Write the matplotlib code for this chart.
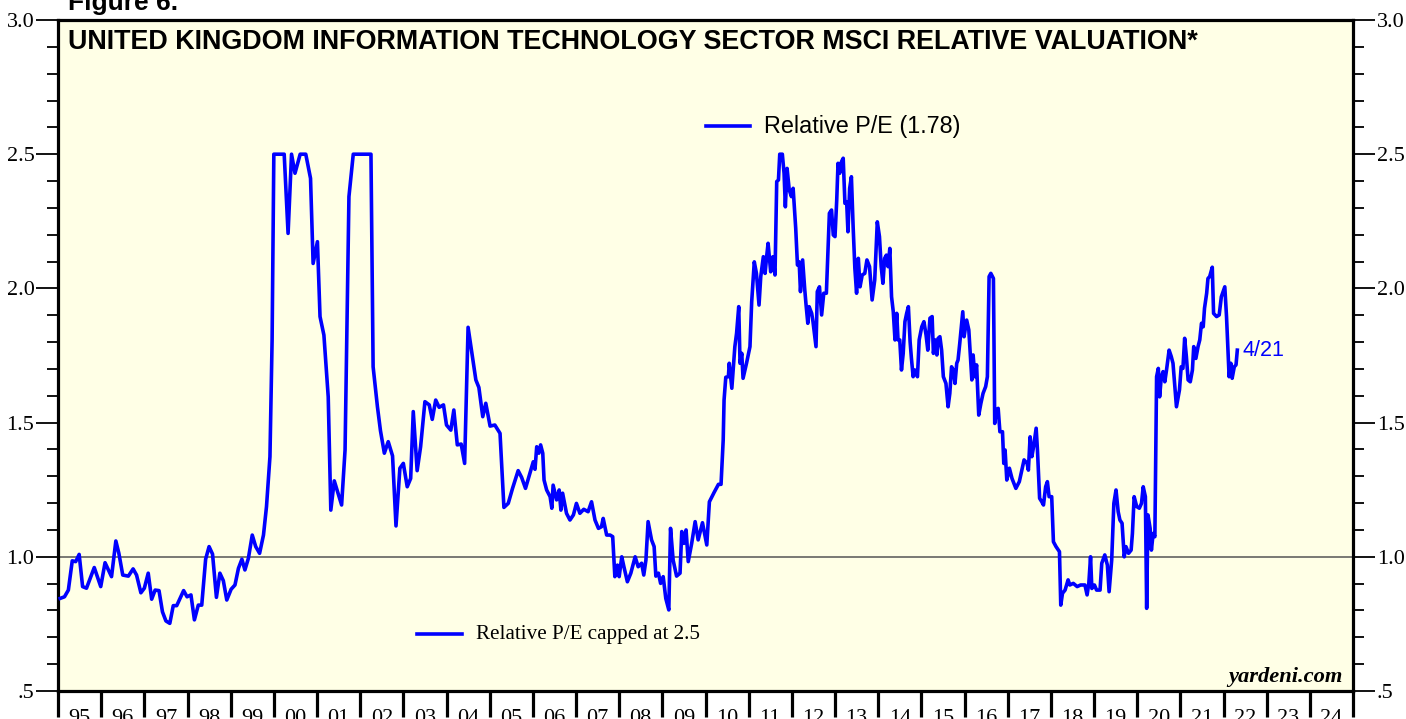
import numpy as np
import matplotlib
matplotlib.use("Agg")
import matplotlib.pyplot as plt
from matplotlib.ticker import MultipleLocator, FixedLocator, NullFormatter

# ---- data (decimal year, relative P/E capped at 2.5) ----
years = [
 1995.05,1995.15,1995.24,1995.33,1995.41,1995.49,1995.57,1995.66,1995.84,1995.99,
 1996.09,1996.24,1996.34,1996.41,1996.50,1996.63,1996.74,1996.82,1996.92,1997.00,
 1997.09,1997.17,1997.25,1997.34,1997.42,1997.50,1997.59,1997.67,1997.75,1997.91,
 1997.99,1998.08,1998.16,1998.25,1998.33,1998.42,1998.50,1998.58,1998.67,1998.75,
 1998.83,1998.91,1999.01,1999.10,1999.18,1999.26,1999.33,1999.41,1999.50,1999.58,
 1999.67,1999.76,1999.83,1999.91,1999.96,2000.00,2000.24,2000.33,2000.41,2000.49,
 2000.61,2000.74,2000.85,2000.91,2001.01,2001.07,2001.16,2001.26,2001.32,2001.40,
 2001.57,2001.65,2001.74,2001.84,2002.25,2002.30,2002.40,2002.47,2002.56,2002.65,
 2002.75,2002.83,2002.92,2003.00,2003.09,2003.17,2003.23,2003.32,2003.40,2003.50,
 2003.60,2003.67,2003.75,2003.83,2003.93,2004.00,2004.10,2004.17,2004.25,2004.34,
 2004.42,2004.50,2004.60,2004.68,2004.75,2004.84,2004.91,2005.01,2005.12,2005.24,
 2005.33,2005.43,2005.53,2005.66,2005.74,2005.83,2005.92,2006.01,2006.05,2006.09,
 2006.14,2006.18,2006.23,2006.26,2006.32,2006.40,2006.44,2006.47,2006.55,2006.61,
 2006.65,2006.69,2006.78,2006.86,2006.94,2007.01,2007.09,2007.18,2007.28,2007.36,
 2007.44,2007.52,2007.59,2007.63,2007.71,2007.79,2007.85,2007.90,2007.96,2008.00,
 2008.06,2008.11,2008.19,2008.27,2008.37,2008.44,2008.52,2008.57,2008.62,2008.67,
 2008.75,2008.81,2008.85,2008.91,2008.96,2009.02,2009.08,2009.15,2009.19,2009.25,
 2009.33,2009.41,2009.45,2009.50,2009.55,2009.60,2009.68,2009.76,2009.83,2009.93,
 2010.03,2010.09,2010.20,2010.30,2010.36,2010.41,2010.43,2010.47,2010.53,2010.55,
 2010.61,2010.64,2010.68,2010.72,2010.77,2010.80,2010.84,2010.87,2010.95,2011.03,
 2011.07,2011.13,2011.18,2011.24,2011.28,2011.34,2011.38,2011.42,2011.45,2011.51,
 2011.56,2011.61,2011.65,2011.69,2011.72,2011.78,2011.82,2011.85,2011.89,2011.94,
 2011.99,2012.03,2012.09,2012.13,2012.17,2012.20,2012.25,2012.30,2012.33,2012.37,
 2012.40,2012.46,2012.49,2012.56,2012.59,2012.64,2012.69,2012.74,2012.80,2012.87,
 2012.92,2012.96,2013.00,2013.04,2013.07,2013.11,2013.15,2013.19,2013.23,2013.27,
 2013.30,2013.34,2013.38,2013.42,2013.46,2013.50,2013.54,2013.58,2013.63,2013.69,
 2013.74,2013.80,2013.86,2013.92,2013.98,2014.03,2014.07,2014.11,2014.15,2014.19,
 2014.23,2014.27,2014.31,2014.35,2014.39,2014.43,2014.46,2014.50,2014.54,2014.58,
 2014.62,2014.66,2014.70,2014.74,2014.77,2014.81,2014.85,2014.91,2014.95,2015.01,
 2015.06,2015.11,2015.15,2015.20,2015.25,2015.28,2015.32,2015.36,2015.39,2015.43,
 2015.47,2015.51,2015.57,2015.62,2015.66,2015.70,2015.74,2015.78,2015.82,2015.85,
 2015.89,2015.96,2015.99,2016.05,2016.10,2016.17,2016.20,2016.24,2016.28,2016.33,
 2016.38,2016.43,2016.49,2016.53,2016.57,2016.61,2016.67,2016.70,2016.74,2016.78,
 2016.82,2016.88,2016.91,2016.94,2016.98,2017.04,2017.10,2017.19,2017.27,2017.38,
 2017.45,2017.48,2017.52,2017.56,2017.60,2017.66,2017.69,2017.74,2017.79,2017.83,
 2017.88,2017.92,2017.96,2018.02,2018.06,2018.12,2018.20,2018.23,2018.27,2018.33,
 2018.40,2018.44,2018.52,2018.61,2018.69,2018.79,2018.84,2018.88,2018.92,2018.95,
 2019.01,2019.06,2019.14,2019.18,2019.25,2019.31,2019.35,2019.41,2019.46,2019.51,
 2019.56,2019.60,2019.65,2019.70,2019.74,2019.80,2019.86,2019.89,2019.93,2019.99,
 2020.05,2020.10,2020.14,2020.19,2020.22,2020.25,2020.30,2020.33,2020.37,2020.41,
 2020.45,2020.49,2020.52,2020.56,2020.60,2020.64,2020.68,2020.74,2020.79,2020.83,
 2020.91,2020.98,2021.02,2021.06,2021.10,2021.14,2021.18,2021.23,2021.28,2021.31,
 2021.36,2021.41,2021.45,2021.49,2021.53,2021.56,2021.61,2021.64,2021.68,2021.74,
 2021.77,2021.84,2021.90,2021.95,2022.03,2022.07,2022.13,2022.17,2022.20,2022.25,
 2022.29,2022.32,
]
rel_pe = [
 0.845,0.851,0.876,0.985,0.982,1.009,0.889,0.883,0.960,0.889,
 0.978,0.926,1.059,1.013,0.932,0.928,0.955,0.932,0.866,0.883,
 0.939,0.842,0.876,0.874,0.795,0.761,0.752,0.818,0.818,0.874,
 0.851,0.858,0.765,0.820,0.820,0.991,1.038,1.010,0.849,0.939,
 0.911,0.839,0.879,0.895,0.957,0.991,0.951,0.994,1.081,1.038,
 1.013,1.081,1.187,1.373,1.808,2.500,2.500,2.205,2.500,2.429,
 2.500,2.500,2.410,2.093,2.174,1.895,1.826,1.596,1.174,1.283,
 1.193,1.398,2.342,2.500,2.500,1.708,1.559,1.470,1.386,1.429,
 1.376,1.115,1.330,1.348,1.261,1.292,1.541,1.321,1.410,1.578,
 1.566,1.512,1.584,1.557,1.566,1.491,1.472,1.547,1.417,1.420,
 1.348,1.855,1.746,1.659,1.631,1.522,1.572,1.487,1.491,1.460,
 1.184,1.199,1.255,1.321,1.296,1.255,1.305,1.354,1.326,1.410,
 1.386,1.417,1.386,1.286,1.249,1.224,1.181,1.267,1.212,1.249,
 1.174,1.237,1.162,1.137,1.156,1.199,1.162,1.177,1.168,1.205,
 1.137,1.106,1.112,1.143,1.081,1.081,1.075,0.926,0.969,0.926,
 1.000,0.963,0.907,0.939,1.000,0.963,0.976,0.932,0.988,1.131,
 1.063,1.038,0.928,0.939,0.901,0.926,0.845,0.802,1.106,0.988,
 0.928,0.939,1.094,1.050,1.100,0.982,1.050,1.131,1.063,1.127,
 1.044,1.205,1.240,1.270,1.270,1.435,1.584,1.669,1.671,1.721,
 1.628,1.696,1.783,1.833,1.932,1.721,1.758,1.665,1.721,1.783,
 1.950,2.099,2.056,1.938,2.044,2.118,2.056,2.124,2.168,2.062,
 2.118,2.050,2.398,2.404,2.500,2.500,2.429,2.304,2.447,2.367,
 2.342,2.373,2.224,2.087,2.099,1.988,2.106,1.994,1.938,1.870,
 1.932,1.907,1.876,1.783,1.988,2.006,1.901,1.982,1.982,2.280,
 2.292,2.199,2.193,2.329,2.466,2.429,2.472,2.485,2.317,2.323,
 2.211,2.373,2.416,2.230,2.075,1.982,2.112,2.006,2.050,2.056,
 2.106,2.081,1.957,2.031,2.248,2.193,2.081,2.019,2.112,2.124,
 2.081,2.149,1.969,1.913,1.808,1.907,1.808,1.808,1.696,1.758,
 1.876,1.907,1.932,1.801,1.740,1.671,1.696,1.671,1.808,1.857,
 1.876,1.826,1.770,1.889,1.895,1.758,1.808,1.752,1.814,1.820,
 1.770,1.671,1.646,1.559,1.609,1.708,1.696,1.646,1.721,1.733,
 1.795,1.913,1.820,1.882,1.845,1.659,1.752,1.671,1.715,1.528,
 1.572,1.609,1.634,1.671,2.044,2.056,2.037,1.497,1.547,1.553,
 1.466,1.466,1.348,1.398,1.286,1.330,1.292,1.255,1.280,1.361,
 1.348,1.323,1.447,1.373,1.410,1.479,1.398,1.218,1.205,1.193,
 1.261,1.280,1.224,1.224,1.056,1.038,1.019,0.820,0.864,0.876,
 0.914,0.895,0.901,0.889,0.895,0.895,0.858,0.901,1.000,0.882,
 0.895,0.876,0.876,0.976,1.007,0.969,0.870,0.988,1.199,1.249,
 1.168,1.137,1.125,1.000,1.038,1.013,1.025,1.087,1.224,1.187,
 1.181,1.199,1.261,1.224,0.808,1.156,1.106,1.025,1.087,1.075,
 1.671,1.702,1.596,1.671,1.690,1.652,1.696,1.770,1.746,1.721,
 1.559,1.622,1.708,1.702,1.814,1.746,1.659,1.652,1.696,1.783,
 1.739,1.783,1.808,1.870,1.857,1.926,1.982,2.037,2.044,2.079,
 1.907,1.895,1.901,1.969,2.006,1.895,1.671,1.721,1.665,1.708,
 1.715,1.770,
]
cap = 2.5
last_label = "4/21"
legend_main = "Relative P/E (1.78)"
legend_cap = "Relative P/E capped at 2.5"
title = "UNITED KINGDOM INFORMATION TECHNOLOGY SECTOR MSCI RELATIVE VALUATION*"
year_labels = ["95","96","97","98","99","00","01","02","03","04","05","06","07","08",
               "09","10","11","12","13","14","15","16","17","18","19","20","21","22","23","24"]
y_major = [0.5, 1.0, 1.5, 2.0, 2.5, 3.0]
y_major_labels = [".5", "1.0", "1.5", "2.0", "2.5", "3.0"]

BLUE = "#0000FF"
BG = "#FFFFE6"

fig = plt.figure(figsize=(14.06, 7.19), dpi=100)
ax = fig.add_axes([58/1406, 28/719, 1295/1406, 671/719])
ax.set_facecolor(BG)

x = np.array(years)
y = np.minimum(np.array(rel_pe), cap)
ax.plot(x, y, color=BLUE, lw=2.6, solid_joinstyle="round", zorder=3)
ax.axhline(1.0, color="#555555", lw=1.1, zorder=2)

ax.set_xlim(1995, 2025)
ax.set_ylim(0.5, 3.0)

for s in ax.spines.values():
    s.set_linewidth(2.3)
    s.set_color("black")

# y ticks both sides, outward
ax.yaxis.set_major_locator(FixedLocator(y_major))
ax.set_yticklabels(y_major_labels)
ax.yaxis.set_minor_locator(MultipleLocator(0.1))
ax.tick_params(axis="y", which="major", direction="out", length=16, width=1.3,
               left=True, right=True, labelleft=True, labelright=True,
               labelsize=16, pad=1)
ax.tick_params(axis="y", which="minor", direction="out", length=8, width=1.3,
               left=True, right=True)
for lab in ax.get_yticklabels():
    lab.set_family("Liberation Serif")

# x ticks at year boundaries, labels at mid-year
ax.xaxis.set_major_locator(FixedLocator(np.arange(1995, 2026)))
ax.xaxis.set_major_formatter(NullFormatter())
ax.xaxis.set_minor_locator(FixedLocator(np.arange(1995, 2025) + 0.5))
ax.set_xticklabels(year_labels, minor=True)
ax.tick_params(axis="x", which="major", direction="out", length=19, width=2.3, bottom=True, top=False)
ax.tick_params(axis="x", which="minor", length=0, labelsize=16, pad=13)
for lab in ax.get_xticklabels(minor=True):
    lab.set_family("Liberation Serif")

# title
ax.text(1995.23, 2.965, title, fontsize=19.4, fontweight="bold", family="Liberation Sans",
        va="top", ha="left", zorder=4)
fig.text(68/1406, 1 - 10/719, "Figure 6.", fontsize=19, fontweight="bold",
         family="Liberation Sans", va="baseline", ha="left")

# legend entries
ax.plot([2010.01, 2011.03], [2.605, 2.605], color=BLUE, lw=2.6)
ax.text(2011.35, 2.605, legend_main, fontsize=16.8, family="Liberation Sans",
        va="center", ha="left")
ax.plot([2003.32, 2004.36], [0.712, 0.712], color=BLUE, lw=2.6)
ax.text(2004.68, 0.712, legend_cap, fontsize=15.2, family="Liberation Serif",
        va="center", ha="left")

# last value label
ax.text(x[-1] + 0.13, y[-1], last_label, color=BLUE, fontsize=15.5,
        family="Liberation Sans", va="center", ha="left")

ax.text(2024.77, 0.553, "yardeni.com", fontsize=16.2, fontweight="bold", style="italic",
        family="Liberation Serif", va="center", ha="right")

fig.savefig("out.png", dpi=100)
